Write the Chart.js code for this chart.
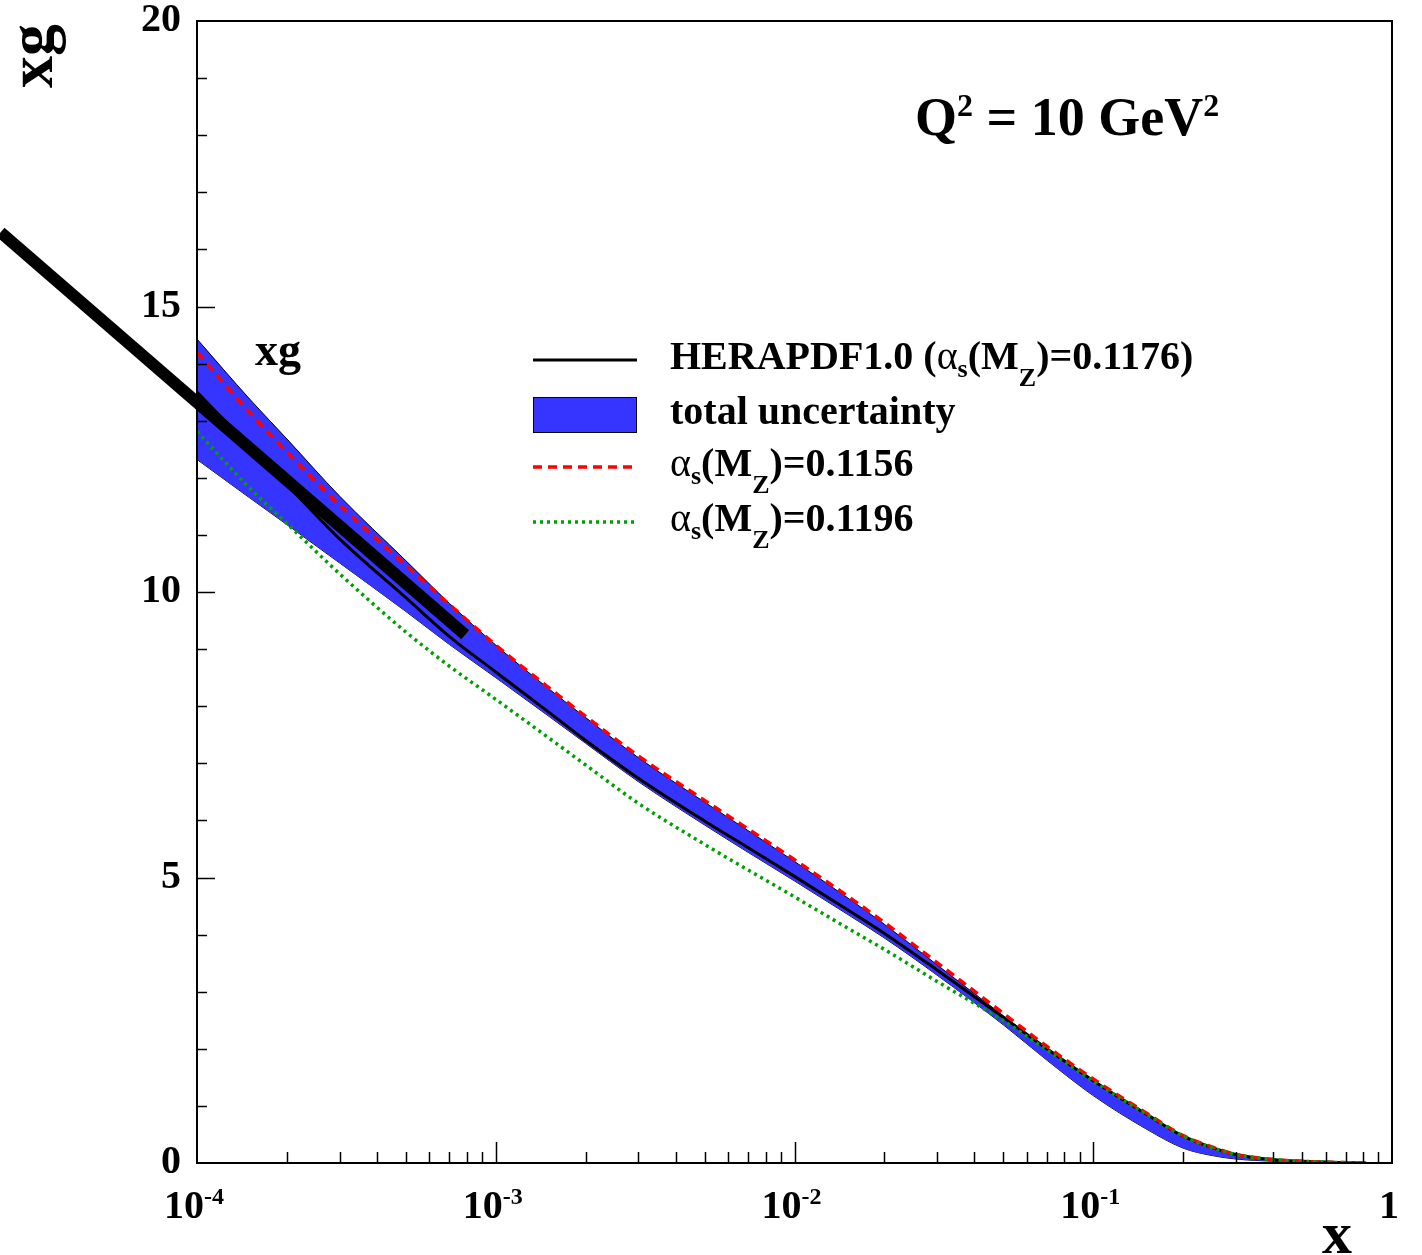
<!DOCTYPE html>
<html>
<head>
<meta charset="utf-8">
<script src="https://cdn.jsdelivr.net/npm/chart.js@4.4.1/dist/chart.umd.min.js"></script>
<style>
  html, body { margin: 0; padding: 0; background: #fff; }
</style>
</head>
<body>
<canvas id="xgChart" width="1422" height="1255"></canvas>
<script>
/* ---- data, Q^2 = 10 GeV^2 ---- */
const xPoints     = [1e-4, 1.5e-4, 2e-4, 3e-4, 5e-4, 7e-4, 1e-3, 1.5e-3, 2e-3, 3e-3, 5e-3, 7e-3,
                     1e-2, 1.5e-2, 2e-2, 3e-2, 5e-2, 7e-2, 0.1, 0.15, 0.2, 0.25, 0.3, 0.4, 0.5, 0.65, 0.82];
const xgCentral   = [13.5, 12.55, 11.88, 10.93, 9.9, 9.22, 8.6, 7.9, 7.4, 6.74, 5.99, 5.52,
                     5.02, 4.44, 4.02, 3.38, 2.55, 2.0, 1.44, 0.86, 0.47, 0.27, 0.15, 0.06, 0.03, 0.01, 0.0];
const xgBandUp    = [14.43, 13.38, 12.68, 11.68, 10.55, 9.8, 9.07, 8.31, 7.8, 7.1, 6.32, 5.82,
                     5.28, 4.65, 4.18, 3.47, 2.58, 2.01, 1.45, 0.87, 0.47, 0.27, 0.15, 0.06, 0.03, 0.01, 0.0];
const xgBandLow   = [12.32, 11.65, 11.18, 10.51, 9.66, 9.08, 8.5, 7.83, 7.35, 6.68, 5.92, 5.44,
                     4.94, 4.36, 3.94, 3.29, 2.42, 1.8, 1.18, 0.6, 0.26, 0.13, 0.07, 0.03, 0.01, 0.0, 0.0];
const xgAlpha1156 = [14.2, 13.14, 12.45, 11.52, 10.47, 9.78, 9.07, 8.33, 7.82, 7.13, 6.35, 5.85,
                     5.31, 4.68, 4.21, 3.51, 2.62, 2.04, 1.47, 0.88, 0.48, 0.28, 0.15, 0.06, 0.03, 0.01, 0.0];
const xgAlpha1196 = [12.81, 11.82, 11.2, 10.32, 9.3, 8.7, 8.12, 7.45, 6.97, 6.3, 5.58, 5.13,
                     4.66, 4.12, 3.74, 3.18, 2.49, 1.98, 1.43, 0.86, 0.47, 0.27, 0.15, 0.06, 0.03, 0.01, 0.0];
// the heavy black stroke that runs out of the frame on the left
const barX = [2.2e-5, 7.9e-4];
const barY = [16.3, 9.25];

const xTickValues = [1e-4, 1e-3, 1e-2, 1e-1, 1];
const xTickExps   = ['-4', '-3', '-2', '-1', ''];

const SERIF = "'Liberation Serif', 'DejaVu Serif', serif";
const BAND_BLUE = '#3535ff';

const pts = ys => xPoints.map((x, i) => ({ x, y: ys[i] }));

/* ---- rich text: [text, kind] with kind '', 'sup', 'sub', 'subLow', 'sym' ---- */
function partFont(kind, size) {
  if (kind === 'sup') return `bold ${Math.round(size * 0.6)}px ${SERIF}`;
  if (kind === 'sub' || kind === 'subLow') return `bold ${Math.round(size * 0.65)}px ${SERIF}`;
  if (kind === 'sym') return `${size}px ${SERIF}`;
  return `bold ${size}px ${SERIF}`;
}
function partDy(kind, size) {
  if (kind === 'sup') return -0.35 * size;
  if (kind === 'sub') return 0.2 * size;
  if (kind === 'subLow') return 0.42 * size;
  return 0;
}
function richWidth(ctx, parts, size) {
  let w = 0;
  parts.forEach(([t, k]) => { ctx.font = partFont(k, size); w += ctx.measureText(t).width; });
  return w;
}
function drawRich(ctx, parts, x, y, size) {
  ctx.textAlign = 'left';
  ctx.textBaseline = 'alphabetic';
  parts.forEach(([t, k]) => {
    ctx.font = partFont(k, size);
    ctx.fillText(t, x, y + partDy(k, size));
    x += ctx.measureText(t).width;
  });
}

const legendRows = [
  { ds: 3, parts: [['HERAPDF1.0 (', ''], ['α', 'sym'], ['s', 'sub'], ['(M', ''], ['Z', 'subLow'], [')=0.1176)', '']] },
  { ds: 4, box: true, parts: [['total uncertainty', '']] },
  { ds: 2, parts: [['α', 'sym'], ['s', 'sub'], ['(M', ''], ['Z', 'subLow'], [')=0.1156', '']] },
  { ds: 1, parts: [['α', 'sym'], ['s', 'sub'], ['(M', ''], ['Z', 'subLow'], [')=0.1196', '']] }
];
const legendY = [360, 415, 467, 522];

/* ---- ROOT-like frame, inward ticks, labels, legend ---- */
const rootFrame = {
  id: 'rootFrame',
  afterDatasetsDraw(chart) {
    const { ctx, chartArea: a, scales: { x, y } } = chart;
    ctx.save();
    ctx.strokeStyle = '#000';
    ctx.fillStyle = '#000';

    ctx.lineWidth = 1.5;
    ctx.beginPath();
    for (let v = 1; v < 20; v++) {
      const py = Math.round(y.getPixelForValue(v)) + 0.5;
      ctx.moveTo(a.left, py);
      ctx.lineTo(a.left + (v % 5 === 0 ? 18 : 10), py);
    }
    for (let e = -4; e < 0; e++) {
      for (let m = 1; m <= 9; m++) {
        if (e === -4 && m === 1) continue;
        const px = Math.round(x.getPixelForValue(m * Math.pow(10, e))) + 0.5;
        ctx.moveTo(px, a.bottom);
        ctx.lineTo(px, a.bottom - (m === 1 ? 21 : 11));
      }
    }
    ctx.stroke();

    ctx.lineWidth = 2;
    ctx.strokeRect(a.left, a.top, a.right - a.left, a.bottom - a.top);

    // x tick labels 10^n
    xTickValues.forEach((v, i) => {
      const parts = xTickExps[i] ? [['10', ''], [xTickExps[i], 'sup']] : [['1', '']];
      const w = richWidth(ctx, parts, 40);
      drawRich(ctx, parts, x.getPixelForValue(v) - w / 2 - 3, 1218, 40);
    });

    // axis titles
    ctx.font = `bold 60px ${SERIF}`;
    ctx.textAlign = 'center';
    ctx.fillText('x', 1337, 1253);
    ctx.save();
    ctx.translate(52, 88);
    ctx.rotate(-Math.PI / 2);
    ctx.font = `bold 64px ${SERIF}`;
    ctx.textAlign = 'left';
    ctx.fillText('xg', 0, 0);
    ctx.restore();

    // in-plot labels
    drawRich(ctx, [['xg', '']], 255, 365, 46);
    drawRich(ctx, [['Q', ''], ['2', 'sup'], [' = 10 GeV', ''], ['2', 'sup']], 915, 135, 54);

    // legend
    legendRows.forEach((row, i) => {
      const ds = chart.data.datasets[row.ds];
      const ly = legendY[i];
      if (row.box) {
        ctx.fillStyle = ds.backgroundColor;
        ctx.fillRect(533, ly - 18, 104, 36);
        ctx.lineWidth = 1;
        ctx.strokeStyle = '#000';
        ctx.strokeRect(533.5, ly - 17.5, 103, 35);
      } else {
        ctx.strokeStyle = ds.borderColor;
        ctx.lineWidth = ds.borderWidth;
        ctx.setLineDash(ds.borderDash || []);
        ctx.beginPath();
        ctx.moveTo(533, ly);
        ctx.lineTo(637, ly);
        ctx.stroke();
        ctx.setLineDash([]);
      }
      ctx.fillStyle = '#000';
      drawRich(ctx, row.parts, 670, ly + 9, 40);
    });
    ctx.restore();
  }
};

const curve = { pointRadius: 0, fill: false, cubicInterpolationMode: 'monotone' };

new Chart(document.getElementById('xgChart'), {
  type: 'line',
  data: {
    datasets: [
      { label: 'xg (heavy stroke)', data: barX.map((x, i) => ({ x, y: barY[i] })),
        borderColor: '#000', borderWidth: 12, borderCapStyle: 'butt', pointRadius: 0, fill: false, clip: false },
      { label: 'αs(MZ)=0.1196', data: pts(xgAlpha1196), borderColor: '#00a000', borderWidth: 3.5,
        borderDash: [3, 4], ...curve },
      { label: 'αs(MZ)=0.1156', data: pts(xgAlpha1156), borderColor: '#ff0000', borderWidth: 3.5,
        borderDash: [9, 6], ...curve },
      { label: 'HERAPDF1.0 (αs(MZ)=0.1176)', data: pts(xgCentral), borderColor: '#000', borderWidth: 3, ...curve },
      { label: 'total uncertainty', data: pts(xgBandUp), borderColor: '#000', borderWidth: 1,
        backgroundColor: BAND_BLUE, ...curve, fill: '+1' },
      { label: 'total uncertainty (low)', data: pts(xgBandLow), borderColor: '#000', borderWidth: 1, ...curve }
    ]
  },
  options: {
    responsive: false,
    animation: false,
    events: [],
    layout: { padding: { left: 0, right: 30, top: 21, bottom: 92 } },
    plugins: { legend: { display: false }, tooltip: { enabled: false } },
    scales: {
      x: { type: 'logarithmic', min: 1e-4, max: 1, display: false },
      y: {
        min: 0, max: 20,
        afterFit(s) { s.width = 197; s.paddingTop = 0; s.paddingBottom = 0; },
        grid: { display: false, drawTicks: false },
        border: { display: false },
        ticks: { stepSize: 5, padding: 16, color: '#000',
                 font: { family: SERIF, size: 40, weight: 'bold' } }
      }
    }
  },
  plugins: [rootFrame]
});
</script>
</body>
</html>
